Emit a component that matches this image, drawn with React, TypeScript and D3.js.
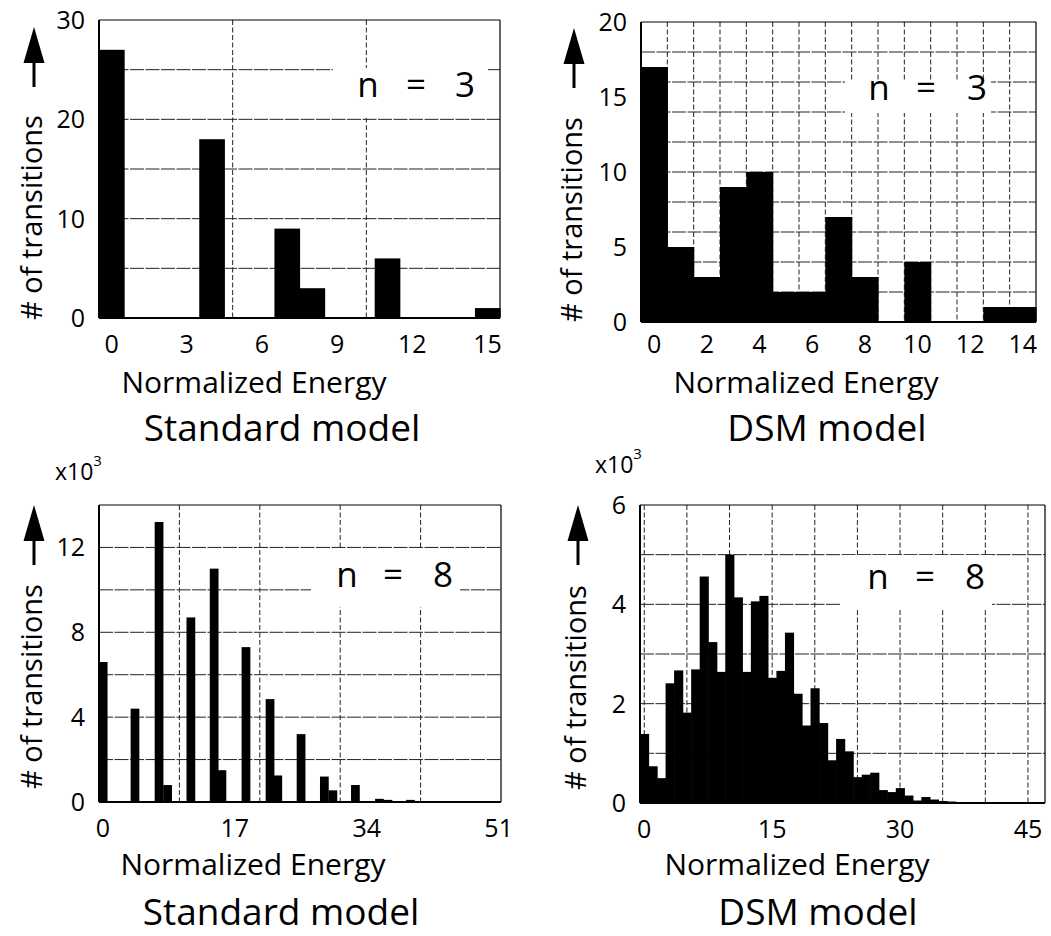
import React from "react";
import * as d3 from "d3";

// ---- Data ----
// Standard model, n = 3 (energy bin centre, count)
const std3Energy = [0, 4, 7, 8, 11, 15];
const std3Count = [27, 18, 9, 3, 6, 1];
const std3XTicks = [0, 3, 6, 9, 12, 15];
const std3YTicks = [0, 10, 20, 30];

// DSM model, n = 3 (bins 0..14)
const dsm3Count = [17, 5, 3, 9, 10, 2, 2, 7, 3, 0, 4, 0, 0, 1, 1];
const dsm3XTicks = [0, 2, 4, 6, 8, 10, 12, 14];
const dsm3YTicks = [0, 5, 10, 15, 20];

// Standard model, n = 8 (x10^3)
const std8Energy = [0, 4.1, 7.2, 8.3, 11.3, 14.3, 15.3, 18.4, 21.5, 22.5, 25.5, 28.5, 29.6, 32.5, 35.6, 36.7, 39.6];
const std8Count = [6.6, 4.4, 13.2, 0.8, 8.7, 11.0, 1.5, 7.3, 4.85, 1.25, 3.2, 1.2, 0.55, 0.8, 0.15, 0.1, 0.1];
const std8XTicks = [0, 17, 34, 51];
const std8YTicks = [0, 4, 8, 12];

// DSM model, n = 8 (x10^3), bins 0..39
const dsm8Count = [1.39, 0.74, 0.5, 2.41, 2.67, 1.82, 2.69, 4.56, 3.24, 2.64, 5.0, 4.14, 2.64, 4.06, 4.17, 2.52, 2.66, 3.43, 2.2, 1.56, 2.31, 1.61, 0.86, 1.29, 1.04, 0.52, 0.57, 0.61, 0.26, 0.22, 0.3, 0.15, 0.05, 0.12, 0.07, 0.04, 0.03, 0.02, 0.01, 0.01];
const dsm8XTicks = [0, 15, 30, 45];
const dsm8YTicks = [0, 2, 4, 6];

const FONT = "'Open Sans', 'Noto Sans', sans-serif";

type Bar = { c: number; v: number; w: number };

type PanelProps = {
  left: number;
  top: number;
  width: number;
  height: number;
  xDomain: [number, number];
  yDomain: [number, number];
  xTicks: number[];
  yTicks: number[];
  hGrid: number[];
  vGridPx: (x: d3.ScaleLinear<number, number>) => number[];
  bars: Bar[];
  box: { x: number; y: number; w: number; h: number };
  nLabel: { chars: string[]; xs: number[]; y: number };
  tickOffset: number;
};

function Panel(p: PanelProps) {
  const x = d3.scaleLinear().domain(p.xDomain).range([p.left, p.left + p.width]);
  const y = d3.scaleLinear().domain(p.yDomain).range([p.top + p.height, p.top]);
  const bottom = p.top + p.height;
  const right = p.left + p.width;
  return (
    <g>
      {p.hGrid.map((v, i) => (
        <line key={"h" + i} x1={p.left} x2={right} y1={y(v)} y2={y(v)} stroke="#222" strokeWidth={1} strokeDasharray="14,1.5" />
      ))}
      {p.vGridPx(x).map((px, i) => (
        <line key={"v" + i} x1={px} x2={px} y1={p.top} y2={bottom} stroke="#222" strokeWidth={1} strokeDasharray="5,2.5" />
      ))}
      <rect x={p.box.x} y={p.box.y} width={p.box.w} height={p.box.h} fill="#fff" />
      <text fontFamily={FONT} fontSize={35} textAnchor="middle" fill="#000">
        {p.nLabel.chars.map((c, i) => (
          <tspan key={i} x={p.nLabel.xs[i]} y={p.nLabel.y}>{c}</tspan>
        ))}
      </text>
      {p.bars.filter((b) => b.v > 0).map((b, i) => (
        <rect
          key={"b" + i}
          x={x(b.c - b.w / 2)}
          width={x(b.c + b.w / 2) - x(b.c - b.w / 2) + 0.6}
          y={y(b.v)}
          height={bottom - y(b.v)}
          fill="#000"
        />
      ))}
      <line x1={p.left} x2={right} y1={p.top} y2={p.top} stroke="#000" strokeWidth={1.2} />
      <line x1={right} x2={right} y1={p.top} y2={bottom} stroke="#000" strokeWidth={1.2} />
      <line x1={p.left} x2={p.left} y1={p.top} y2={bottom} stroke="#000" strokeWidth={2} />
      <line x1={p.left} x2={right} y1={bottom} y2={bottom} stroke="#000" strokeWidth={2} />
      {p.yTicks.map((t) => (
        <text key={"yt" + t} x={p.left - 14} y={y(t) + 9} textAnchor="end" fontFamily={FONT} fontSize={25}>{t}</text>
      ))}
      {p.xTicks.map((t) => (
        <text key={"xt" + t} x={x(t)} y={bottom + p.tickOffset} textAnchor="middle" fontFamily={FONT} fontSize={25}>{t}</text>
      ))}
    </g>
  );
}

function YLabel({ x, textStart, tip }: { x: number; textStart: number; tip: number }) {
  const ax = x - 8;
  return (
    <g>
      <text transform={`translate(${x},${textStart}) rotate(-90)`} fontFamily={FONT} fontSize={29}>
        # of transitions
      </text>
      <line x1={ax} x2={ax} y1={tip + 30} y2={tip + 60} stroke="#000" strokeWidth={3} />
      <path d={`M${ax},${tip} L${ax - 10.5},${tip + 36} L${ax + 10.5},${tip + 36} Z`} fill="#000" />
    </g>
  );
}

export default function App() {
  const thirds = (x: d3.ScaleLinear<number, number>) => {
    const [a, b] = x.range();
    return [1, 2].map((k) => a + ((b - a) * k) / 3);
  };
  const fifths = (x: d3.ScaleLinear<number, number>) => {
    const [a, b] = x.range();
    return [1, 2, 3, 4].map((k) => a + ((b - a) * k) / 5);
  };
  const binEdges = (x: d3.ScaleLinear<number, number>) => d3.range(0.5, 14.5, 1).map((v) => x(v));
  const fives = (x: d3.ScaleLinear<number, number>) => d3.range(0, 46, 5).map((v) => x(v));

  const std3Bars = std3Energy.map((c, i) => ({ c, v: std3Count[i], w: 1 }));
  const dsm3Bars = dsm3Count.map((v, i) => ({ c: i, v, w: 1 }));
  const std8Bars = std8Energy.map((c, i) => ({ c, v: std8Count[i], w: 1.05 }));
  const dsm8Bars = dsm8Count.map((v, i) => ({ c: i, v, w: 1 }));

  return (
    <svg
      width={1051}
      height={936}
      style={{ display: "block", position: "absolute", left: 0, top: 0, background: "#fff" }}
    >
      <rect x={0} y={0} width={1051} height={936} fill="#fff" />
      <Panel
        left={99} top={20} width={401} height={298}
        xDomain={[-0.5, 15.5]} yDomain={[0, 30]}
        xTicks={std3XTicks} yTicks={std3YTicks}
        hGrid={[5, 10, 15, 20, 25]} vGridPx={thirds}
        bars={std3Bars}
        box={{ x: 333, y: 68, w: 155, h: 50 }}
        nLabel={{ chars: ["n", "=", "3"], xs: [368, 416, 465], y: 97 }}
        tickOffset={35}
      />
      <Panel
        left={641} top={22} width={395} height={300}
        xDomain={[-0.5, 14.5]} yDomain={[0, 20]}
        xTicks={dsm3XTicks} yTicks={dsm3YTicks}
        hGrid={[2, 4, 6, 8, 10, 12, 14, 16, 18]} vGridPx={binEdges}
        bars={dsm3Bars}
        box={{ x: 845, y: 80, w: 146, h: 33 }}
        nLabel={{ chars: ["n", "=", "3"], xs: [879, 926, 977], y: 100 }}
        tickOffset={31}
      />
      <Panel
        left={99} top={505} width={402} height={297}
        xDomain={[-0.5, 51.3]} yDomain={[0, 14]}
        xTicks={std8XTicks} yTicks={std8YTicks}
        hGrid={[2, 4, 6, 8, 10, 12]} vGridPx={fifths}
        bars={std8Bars}
        box={{ x: 311, y: 549, w: 149, h: 58 }}
        nLabel={{ chars: ["n", "=", "8"], xs: [347, 393, 443], y: 587 }}
        tickOffset={35}
      />
      <Panel
        left={640} top={505} width={405} height={298}
        xDomain={[-0.5, 47]} yDomain={[0, 6]}
        xTicks={dsm8XTicks} yTicks={dsm8YTicks}
        hGrid={[1, 2, 3, 4, 5]} vGridPx={fives}
        bars={dsm8Bars}
        box={{ x: 840, y: 555, w: 152, h: 53 }}
        nLabel={{ chars: ["n", "=", "8"], xs: [878, 925, 975], y: 589 }}
        tickOffset={35}
      />

      <YLabel x={42} textStart={320} tip={27} />
      <YLabel x={582} textStart={322} tip={28} />
      <YLabel x={42} textStart={789} tip={505} />
      <YLabel x={586} textStart={790} tip={505} />

      <g fontFamily={FONT} textAnchor="middle">
        <text x={254} y={393} fontSize={30}>Normalized Energy</text>
        <text x={282} y={441} fontSize={37}>Standard model</text>
        <text x={806} y={393} fontSize={30}>Normalized Energy</text>
        <text x={827} y={441} fontSize={37}>DSM model</text>
        <text x={253} y={875} fontSize={30}>Normalized Energy</text>
        <text x={281} y={925} fontSize={37}>Standard model</text>
        <text x={797} y={875} fontSize={30}>Normalized Energy</text>
        <text x={818} y={925} fontSize={37}>DSM model</text>
      </g>
      <g fontFamily={FONT}>
        <text x={55} y={480} fontSize={23}>x10<tspan dy={-14} fontSize={15}>3</tspan></text>
        <text x={595} y={473} fontSize={23}>x10<tspan dy={-14} fontSize={15}>3</tspan></text>
      </g>
    </svg>
  );
}
